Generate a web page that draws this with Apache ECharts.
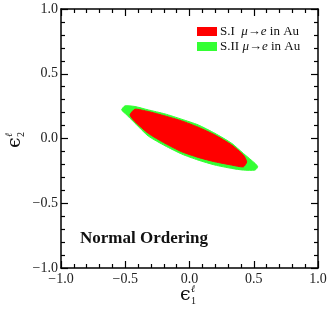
<!DOCTYPE html>
<html>
<head>
<meta charset="utf-8">
<script src="https://cdn.jsdelivr.net/npm/echarts@6/dist/echarts.min.js"></script>
<style>html,body{margin:0;padding:0;background:#fff}#c{width:333px;height:310px}</style>
</head>
<body>
<div id="c"></div>
<script>
// Boundary vertices (ε1, ε2)
var seriesNames = ['S.I', 'S.II'];
var greenRegion = [
  [-0.528, 0.221],
  [-0.502, 0.252], [-0.424, 0.247], [-0.321, 0.221], [-0.191, 0.190], [-0.061, 0.149],
  [0.068, 0.105], [0.198, 0.040], [0.328, -0.037], [0.419, -0.115], [0.510, -0.192],
  [0.531, -0.219],
  [0.510, -0.244], [0.419, -0.244], [0.328, -0.231], [0.198, -0.205], [0.068, -0.167],
  [-0.061, -0.120], [-0.191, -0.056], [-0.321, 0.019], [-0.424, 0.118], [-0.502, 0.195]
];
var redRegion = [
  [-0.463, 0.182],
  [-0.424, 0.226], [-0.321, 0.208], [-0.191, 0.174], [-0.061, 0.136], [0.068, 0.087],
  [0.198, 0.027], [0.328, -0.050], [0.419, -0.128],
  [0.445, -0.180],
  [0.419, -0.219], [0.328, -0.205], [0.198, -0.180], [0.068, -0.146], [-0.061, -0.102],
  [-0.191, -0.037], [-0.321, 0.040], [-0.424, 0.130]
];
var tickValues = [-1.0, -0.5, 0.0, 0.5, 1.0];

var serif = '"Liberation Serif", "Times New Roman", serif';
function fmt(v) { return v.toFixed(1).replace('-', '\u2212'); }

function regionRender(points, color) {
  return function (params, api) {
    if (params.dataIndex !== 0) return null;
    var pts = points.map(function (p) { return api.coord(p); });
    return { type: 'polygon', shape: { points: pts, smooth: 0.2 }, style: { fill: color, stroke: color, lineWidth: 1 } };
  };
}

var chart = echarts.init(document.getElementById('c'));
var axisCommon = {
  type: 'value', min: tickValues[0], max: tickValues[tickValues.length - 1], interval: 0.5,
  axisLine: { show: true, onZero: false, lineStyle: { color: '#000', width: 1.5 } },
  axisTick: { show: true, inside: true, length: 7, lineStyle: { color: '#000', width: 1.2 } },
  minorTick: { show: true, splitNumber: 5, length: 4, lineStyle: { color: '#000', width: 1.2 } },
  splitLine: { show: false },
  minorSplitLine: { show: false }
};
function ax(extra) { return Object.assign({}, axisCommon, extra); }

chart.setOption({
  animation: false,
  grid: { left: 61, right: 15, top: 9, bottom: 42 },
  xAxis: [
    ax({ position: 'bottom', axisLabel: { formatter: fmt, color: '#222', fontFamily: serif, fontSize: 14, margin: 4 } }),
    ax({ position: 'top', axisLabel: { show: false } })
  ],
  yAxis: [
    ax({ position: 'left', axisLabel: { formatter: fmt, color: '#222', fontFamily: serif, fontSize: 14, margin: 3 } }),
    ax({ position: 'right', axisLabel: { show: false } })
  ],
  legend: {
    orient: 'vertical', left: 192, top: 20, itemWidth: 20, itemHeight: 9, itemGap: 2,
    data: [{ name: seriesNames[0], icon: 'rect' }, { name: seriesNames[1], icon: 'rect' }],
    formatter: function (n) { return (n === 'S.I' ? 'S.I  ' : 'S.II ') + '{i|\u03bc}\u2192{i|e} in Au'; },
    textStyle: { fontFamily: serif, fontSize: 13, color: '#111', lineHeight: 13, padding: [0, 0, 0, -2],
      rich: { i: { fontFamily: serif, fontSize: 13, fontStyle: 'italic', color: '#111' } } }
  },
  series: [
    { name: seriesNames[1], type: 'custom', data: greenRegion, renderItem: regionRender(greenRegion, '#33ff33'), itemStyle: { color: '#33ff33' }, z: 2 },
    { name: seriesNames[0], type: 'custom', data: redRegion, renderItem: regionRender(redRegion, '#ff0000'), itemStyle: { color: '#ff0000' }, z: 3 }
  ],
  graphic: [
    { type: 'text', left: 80, top: 230, style: { text: 'Normal Ordering', font: 'bold 17px ' + serif, fill: '#111' } },
    { type: 'group', left: 180, top: 284, children: [
      { type: 'text', x: 0, y: 2, style: { text: '\u03f5', font: '19px "DejaVu Serif", serif', fill: '#111' } },
      { type: 'text', x: 11, y: 0, style: { text: '\u2113', font: 'italic 10px "DejaVu Serif", serif', fill: '#111' } },
      { type: 'text', x: 11, y: 12, style: { text: '1', font: '10px ' + serif, fill: '#111' } }
    ] },
    { type: 'group', x: 4, y: 148, rotation: Math.PI / 2, children: [
      { type: 'text', x: 0, y: 2, style: { text: '\u03f5', font: '19px "DejaVu Serif", serif', fill: '#111' } },
      { type: 'text', x: 11, y: 0, style: { text: '\u2113', font: 'italic 10px "DejaVu Serif", serif', fill: '#111' } },
      { type: 'text', x: 11, y: 12, style: { text: '2', font: '10px ' + serif, fill: '#111' } }
    ] }
  ]
});
</script>
</body>
</html>
